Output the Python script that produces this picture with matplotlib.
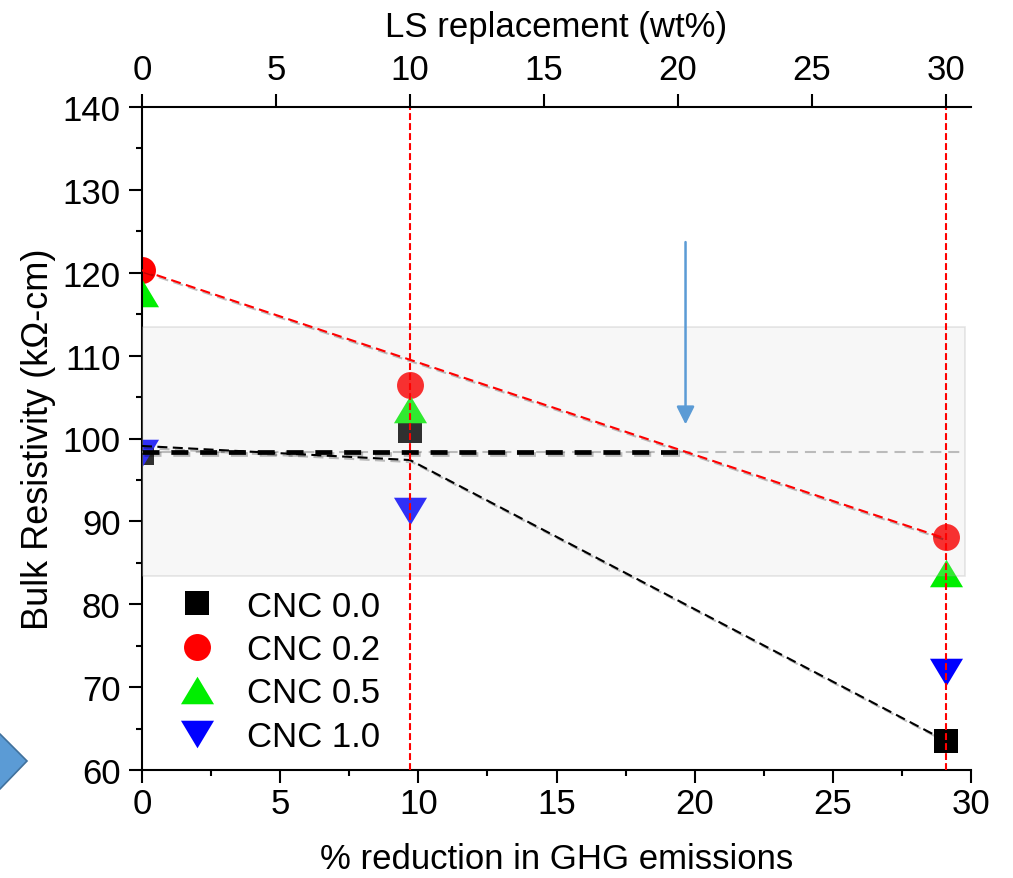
import matplotlib
matplotlib.use("Agg")
import matplotlib.pyplot as plt
from matplotlib.patches import Rectangle, Polygon
from matplotlib.path import Path
import matplotlib.patheffects as pe

plt.rcParams['font.family'] = ['Liberation Sans', 'DejaVu Sans']

# ---- data ----
ghg_reduction = [0, 9.7, 29.1]          # bottom axis (% reduction in GHG)
ls_replacement = [0, 10, 30]            # top axis (LS replacement wt%)
cnc_00 = [98.2, 100.9, 63.5]
cnc_02 = [120.3, 106.4, 88.1]
cnc_05 = [117.6, 103.6, 83.8]
cnc_10 = [98.3, 91.2, 71.8]
labels = ["CNC 0.0", "CNC 0.2", "CNC 0.5", "CNC 1.0"]

trend_red_x = [0, 29.1]
trend_red_y = [120.3, 87.9]
trend_black_x = [0, 9.7, 29.1]
trend_black_y = [99.1, 97.4, 63.5]
reference_level = 98.4
band_low, band_high = 83.4, 113.5
band_right = 29.8
arrow_top, arrow_tip = 123.7, 101.7

bottom_ticks = [0, 5, 10, 15, 20, 25, 30]
top_ticks = [0, 5, 10, 15, 20, 25, 30]
y_ticks = [60, 70, 80, 90, 100, 110, 120, 130, 140]

FS = 25

W, H = 1013, 879
fig = plt.figure(figsize=(W / 100, H / 100), dpi=100)
ax = fig.add_axes([142 / W, 1 - 771 / H, 829 / W, 663 / H])
ax.set_xlim(0, 30)
ax.set_ylim(60, 140)

# custom wide triangles
up_tri = Path([(-1.2, -1), (1.2, -1), (0, 1), (-1.2, -1)],
              [Path.MOVETO, Path.LINETO, Path.LINETO, Path.CLOSEPOLY])
down_tri = Path([(-1.2, 1), (1.2, 1), (0, -1), (-1.2, 1)],
                [Path.MOVETO, Path.LINETO, Path.LINETO, Path.CLOSEPOLY])

series = [
    (cnc_00, 's', '#000000', 17.3),
    (cnc_02, 'o', '#ff0000', 19.4),
    (cnc_05, up_tri, '#00ee00', 23.8),
    (cnc_10, down_tri, '#0000ff', 23.8),
]
handles = []
for (vals, mk, col, ms), lab in zip(series, labels):
    h, = ax.plot(ghg_reduction, vals, linestyle='none', marker=mk, ms=ms,
                 mfc=col, mec=col, mew=0, label=lab, zorder=2)
    handles.append(h)

# shaded band (drawn over markers, slightly lightening them)
band = Rectangle((0, band_low), band_right, band_high - band_low,
                 facecolor='#dcdcdc', edgecolor='#909090', lw=1.2,
                 alpha=0.22, zorder=3)
ax.add_patch(band)

shadow = [pe.SimpleLineShadow(offset=(1.5, -1.5), shadow_color='k', alpha=0.25),
          pe.Normal()]

# gray reference dashed line
ax.plot([0, band_right], [reference_level, reference_level], color='#bbbbbb',
        lw=1.5, dashes=(5.3, 3.3), zorder=4)

# red trend
ax.plot(trend_red_x, trend_red_y, color='#ff0000', lw=1.5, dashes=(4.8, 2.6),
        zorder=5, path_effects=shadow)
# black trend
ax.plot(trend_black_x, trend_black_y, color='#000000', lw=1.5, dashes=(4.8, 2.6),
        zorder=5, path_effects=shadow)

# intersection of red trend with reference level
slope = (trend_red_y[1] - trend_red_y[0]) / (trend_red_x[1] - trend_red_x[0])
x_int = trend_red_x[0] + (reference_level - trend_red_y[0]) / slope
ax.plot([0, x_int], [reference_level, reference_level], color='#000000',
        lw=3.4, dashes=(3.6, 2.5), zorder=5, path_effects=shadow)

# blue arrow
ax.annotate('', xy=(x_int, arrow_tip), xytext=(x_int, arrow_top),
            arrowprops=dict(arrowstyle='-|>,head_length=0.9,head_width=0.45',
                            mutation_scale=12, color='#5b9bd5', lw=1.8,
                            shrinkA=0, shrinkB=0), zorder=6)

# vertical red dotted lines
for xv in ghg_reduction[1:]:
    ax.plot([xv, xv], [60, 140], color='#ff0000', lw=1.5, dashes=(3.3, 1.5),
            zorder=6)

# axes styling
ax.spines['right'].set_visible(False)
ax.spines['top'].set_visible(False)
for s in ['left', 'bottom']:
    ax.spines[s].set_linewidth(1.5)
ax.set_xticks(bottom_ticks)
ax.set_xticks([2.5, 7.5, 12.5, 17.5, 22.5, 27.5], minor=True)
ax.set_yticks(y_ticks)
ax.set_yticks([65, 75, 85, 95, 105, 115, 125, 135], minor=True)
ax.tick_params(which='major', direction='out', length=9.4, width=1.5,
               labelsize=FS, colors='black')
ax.tick_params(which='minor', direction='out', length=4, width=1.5)
ax.tick_params(axis='y', which='major', pad=6)
ax.tick_params(axis='x', which='major', pad=3)
ax.set_xlabel('% reduction in GHG emissions', fontsize=FS, labelpad=16)
ax.set_ylabel('Bulk Resistivity (kΩ-cm)', fontsize=26, labelpad=5)

# top axis
ratio = ghg_reduction[-1] / ls_replacement[-1]
ax2 = ax.twiny()
ax2.set_xlim(0, 30 / ratio)
ax2.set_xticks(top_ticks)
ax2.spines['right'].set_visible(False)
ax2.spines['left'].set_visible(False)
ax2.spines['bottom'].set_visible(False)
ax2.spines['top'].set_linewidth(1.5)
ax2.tick_params(axis='x', which='major', direction='out', length=9.4,
                width=1.5, labelsize=FS, pad=6)
ax2.set_xlabel('LS replacement (wt%)', fontsize=FS, labelpad=12)

# legend
ax.legend(handles=handles, loc='upper left', bbox_to_anchor=(0.0245, 0.293),
          frameon=False, fontsize=FS, handlelength=1.2, handletextpad=0.85,
          labelspacing=0.3, borderaxespad=0, numpoints=1)

# decorative blue chevron at lower left (figure pixel coords)
chev = Polygon([(-10 / W, 1 - 735 / H), (0 / W, 1 - 735 / H), (27 / W, 1 - 762 / H),
                (0 / W, 1 - 790 / H), (-10 / W, 1 - 790 / H)], closed=True,
               transform=fig.transFigure, facecolor='#5b9bd5', edgecolor='#41719c',
               lw=1.2, clip_on=False)
fig.patches.append(chev)

fig.savefig('out.png', dpi=100)
